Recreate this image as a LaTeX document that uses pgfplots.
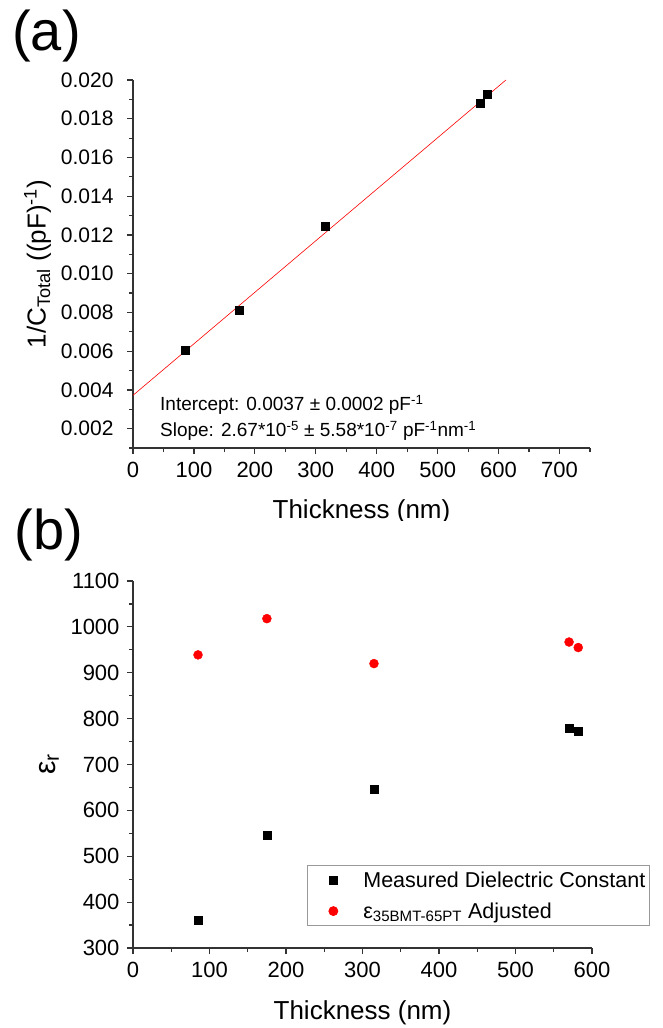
\documentclass[border=0pt]{standalone}
\usepackage{fontspec}
\setmainfont{Liberation Sans}
\usepackage{pgfplots}
\pgfplotsset{compat=1.18}
\begin{document}
\begin{tikzpicture}[x=1pt,y=1pt]
\useasboundingbox (0,0) rectangle (662,-1028);
\pgfplotsset{
  every axis/.append style={
    scale only axis,
    axis x line*=bottom, axis y line*=left,
    axis line style={line width=1.5pt, black!80},
    tick align=outside,
    major tick length=6pt, minor tick length=3.5pt,
    every tick/.style={line width=1.2pt, black!80},
    tick label style={font=\fontsize{22}{25}\selectfont},
    xticklabel style={yshift=-5pt},
    /pgf/number format/assume math mode=true,
    /pgf/number format/1000 sep={},
    label style={font=\fontsize{26}{30}\selectfont},
    clip=false,
  }
}
% ---------------- (a) ----------------
\begin{axis}[
  at={(133pt,-448pt)}, anchor=south west,
  width=457pt, height=368pt,
  xmin=0, xmax=750, ymin=0.001, ymax=0.020,
  scaled y ticks=false,
  xtick={0,100,...,700}, minor xtick={50,150,...,750},
  ytick={0.002,0.004,...,0.0201}, minor ytick={0.001,0.003,...,0.0195},
  yticklabel style={/pgf/number format/fixed, /pgf/number format/fixed zerofill, /pgf/number format/precision=3, xshift=-10pt, font=\fontsize{21}{25}\selectfont},
  xlabel={Thickness (nm)},
  ylabel={1/C\textsubscript{Total} ((pF)\textsuperscript{-1})},
  xlabel style={at={(axis description cs:0.5,-0.141)}, anchor=north, inner sep=0pt},
  ylabel style={at={(axis description cs:-0.179,0.5)}, anchor=south, inner sep=0pt},
]
\addplot[red, line width=0.6pt] coordinates {(0,0.00372) (612,0.0200)};
\addplot[only marks, mark=square*, mark size=4pt, mark options={fill=black, draw=black}] coordinates {
  (85,0.00603) (175,0.00811) (315,0.01244) (569,0.0188) (582,0.01929)
};
\node[anchor=west, inner sep=0pt, font=\fontsize{19}{22}\selectfont] at (rel axis cs:0.059,0.117) {Intercept: 0.0037 ± 0.0002 pF\textsuperscript{-1}};
\node[anchor=west, inner sep=0pt, font=\fontsize{19}{22}\selectfont] at (rel axis cs:0.059,0.046) {Slope: 2.67*10\textsuperscript{-5} ± 5.58*10\textsuperscript{-7} pF\textsuperscript{-1}nm\textsuperscript{-1}};
\end{axis}
\node[inner sep=0pt, font=\fontsize{56}{60}\selectfont] at (46.5,-36.5) {(a)};
\fill[white] (150,-521) rectangle (560,-535);
% ---------------- (b) ----------------
\begin{axis}[
  at={(133pt,-948pt)}, anchor=south west,
  width=459pt, height=367pt,
  xmin=0, xmax=600, ymin=300, ymax=1100,
  xtick={0,100,...,600}, minor xtick={50,150,...,550},
  ytick={300,400,...,1100}, minor ytick={350,450,...,1050},
  yticklabel style={xshift=-4pt},
  xlabel={Thickness (nm)},
  ylabel={ε\textsubscript{r}},
  xlabel style={at={(axis description cs:0.5,-0.143)}, anchor=north, inner sep=0pt},
  ylabel style={at={(axis description cs:-0.161,0.5)}, anchor=south, inner sep=0pt, font=\fontsize{30}{34}\selectfont},
  legend style={at={(0.379,0.226)}, anchor=north west, draw=black!40, line width=0.8pt,
    font=\fontsize{21.5}{25}\selectfont, row sep=10pt, inner xsep=2pt, inner ysep=4pt},
  legend cell align=left,
  legend image code/.code={\path[draw=none] (0pt,0pt) -- (52pt,0pt); \draw plot coordinates {(24pt,0pt)};},
]
\addplot[only marks, mark=square*, mark size=4pt, mark options={fill=black, draw=black}] coordinates {
  (85,361) (175,547) (315,647) (570,780) (582,772)
};
\addlegendentry{Measured Dielectric Constant}
\addplot[only marks, mark=*, mark size=4.5pt, mark options={fill=red, draw=red}] coordinates {
  (85,939) (175,1018) (315,920) (570,967) (582,955)
};
\addlegendentry{ε\textsubscript{35BMT-65PT} Adjusted}
\end{axis}
\node[inner sep=0pt, font=\fontsize{56}{60}\selectfont] at (49,-535) {(b)};
\end{tikzpicture}
\end{document}
